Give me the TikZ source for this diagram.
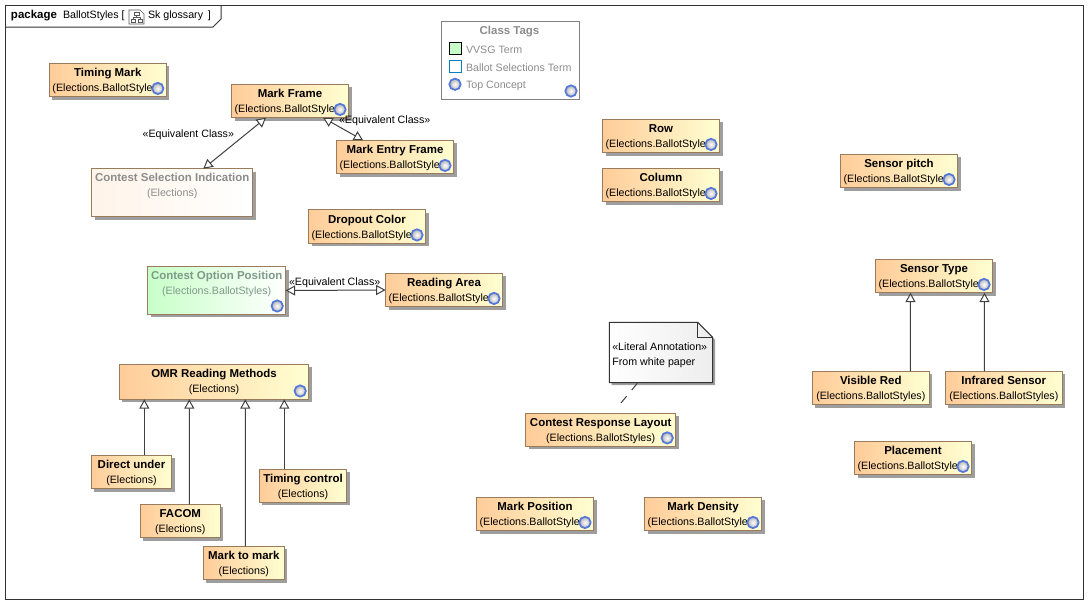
\documentclass[tikz,border=0pt]{standalone}
\usepackage{fontspec}
\setmainfont{Liberation Sans}
\usetikzlibrary{arrows.meta,calc,shadows}

\definecolor{edgebrown}{HTML}{9A7B5C}
\definecolor{classorange}{HTML}{FFCC99}
\definecolor{classyellow}{HTML}{FFFFD2}
\definecolor{termgreen}{HTML}{C8FFC8}
\definecolor{fadetext}{HTML}{8C8C8C}
\definecolor{fadegreen}{HTML}{7F9A8A}
\definecolor{tagblue}{HTML}{0B7FC0}
\definecolor{ringblue}{HTML}{5578DC}

\newcommand{\bname}[1]{{\fontsize{8.6}{11.25}\selectfont\bfseries #1}}
\newcommand{\cname}[1]{\rule{0pt}{7.9pt}\bname{#1}}
\newcommand{\cutstyle}{\makebox[83pt][l]{(Elections.BallotStyle}}

\tikzset{
  txt/.style={font=\fontsize{8}{11.25}\selectfont,inner sep=0pt,outer sep=0pt},
  sized/.style 2 args={minimum width=#1*0.75pt,minimum height=#2*0.75pt},
  boxshadow/.style={drop shadow={shadow xshift=2.25pt,shadow yshift=-2.25pt,fill=black!38,opacity=1}},
  ballot/.style={txt,draw=edgebrown,line width=0.75pt,align=center,boxshadow,
    left color=classorange,right color=classyellow,sized={117}{33.5}},
  topc/.style={circle,draw=ringblue,line width=1.3pt,inner sep=0pt,minimum size=8.5pt,
    inner color=white,outer color=black!30},
  gen/.style={draw=black!75,line width=0.75pt,-{Triangle[open,fill=white,length=7pt,width=7.5pt]}},
  equiv/.style={gen,{Triangle[open,fill=white,length=7pt,width=7.5pt]}-{Triangle[open,fill=white,length=7pt,width=7.5pt]}},
}

\begin{document}
\begin{tikzpicture}[x=0.75pt,y=-0.75pt]
    \useasboundingbox (0,0) rectangle (1087,604);

    % Package frame
    \draw[black!80,line width=0.75pt] (5,5) rectangle (1083,599.5);
    \draw[black!80,line width=0.75pt] (5,27) -- (213,27) -- (221,19) -- (221,5);
    \node[txt,anchor=west] (kind) at (11,15.5) {\bname{package}};
    \node[txt,anchor=west] (pkgname) at (63,15.5) {BallotStyles [};
    \node[txt,anchor=west] (diagname) at (148,15.5) {Sk glossary\ \,]};
    % diagram icon
    \draw[black!65,line width=0.5pt] (129,10) -- (140,10) -- (144,14) -- (144,24) -- (129,24) -- cycle;
    \draw[black!65,line width=0.5pt] (134,12) rectangle (139,15.5) (131,19) rectangle (135.5,22.5)
      (138,19) rectangle (142.5,22.5) (136.5,15.5) -- (136.5,17.5) (133,19) -- (133,17.5) -- (140,17.5) -- (140,19);

    % Legend
    \draw[black!50,line width=0.75pt,fill=white] (441.3,21.7) rectangle (579.3,99.3);
    \node[txt,text=fadetext] (legendtitle) at (509.5,32) {\bname{Class Tags}};
    \node[draw=black,line width=0.75pt,fill=termgreen,sized={12}{12},inner sep=0pt] (vvsgbox) at (455.5,48.5) {};
    \node[draw=tagblue,line width=0.75pt,fill=white,sized={12}{12},inner sep=0pt] (ballotbox) at (455.5,66) {};
    \node[topc] (topbox) at (455,84.3) {};
    \node[txt,text=fadetext,anchor=west] (vvsgtext) at (466,49.5) {VVSG Term};
    \node[txt,text=fadetext,anchor=west] (ballottext) at (466,67.5) {Ballot Selections Term};
    \node[txt,text=fadetext,anchor=west] (toptext) at (466,85.5) {Top Concept};
    \node[topc] (legendtop) at (571,91) {};

    % Upper left classes
    \node[ballot] (timing) at (107.8,80) {\cname{Timing Mark}\\\cutstyle};
    \node[ballot] (markframe) at (290,101) {\cname{Mark Frame}\\\cutstyle};
    \node[ballot] (entry) at (395,157) {\cname{Mark Entry Frame}\\\cutstyle};
    \node[ballot,sized={161}{48},left color=classorange!22,right color=white,text=fadetext] (selection) at (172.2,192.7)
      {\bname{Contest Selection Indication}\\(Elections)\\~};
    \node[ballot] (dropout) at (367,226.5) {\cname{Dropout Color}\\\cutstyle};
    \node[ballot,sized={138}{47.6},left color=termgreen,right color=white,text=fadegreen] (option) at (216.7,290.5)
      {\bname{Contest Option Position}\\(Elections.BallotStyles)\\~};
    \node[ballot] (reading) at (444,290) {\cname{Reading Area}\\\cutstyle};

    % Reading methods
    \node[ballot,sized={189.4}{35}] (omr) at (214,381.8) {\bname{OMR Reading Methods}\\(Elections)};
    \node[ballot,sized={80.4}{33.5}] (direct) at (131.5,472) {\cname{Direct under}\\(Elections)};
    \node[ballot,sized={80}{33.5}] (facom) at (180.3,521) {\cname{FACOM}\\(Elections)};
    \node[ballot,sized={81}{33.5}] (marktomark) at (243.8,563) {\cname{Mark to mark}\\(Elections)};
    \node[ballot,sized={87.4}{33}] (timingctl) at (303,485.8) {\cname{Timing control}\\(Elections)};

    % Middle and right classes
    \node[ballot] (row) at (661,136) {\cname{Row}\\\cutstyle};
    \node[ballot] (column) at (661,185) {\cname{Column}\\\cutstyle};
    \node[ballot] (pitch) at (899,171) {\cname{Sensor pitch}\\\cutstyle};
    \node[ballot] (sensor) at (934,276) {\cname{Sensor Type}\\\cutstyle};
    \node[ballot] (visible) at (870.8,388) {\cname{Visible Red}\\(Elections.BallotStyles)};
    \node[ballot] (infrared) at (1003.8,388) {\cname{Infrared Sensor}\\(Elections.BallotStyles)};
    \node[ballot] (placement) at (913,458) {\cname{Placement}\\\cutstyle};
    \node[ballot,sized={150}{33}] (layout) at (600.7,429.7) {\cname{Contest Response Layout}\\(Elections.BallotStyles)};
    \node[ballot] (markpos) at (535,514) {\cname{Mark Position}\\\cutstyle};
    \node[ballot] (density) at (703,514) {\cname{Mark Density}\\\cutstyle};

    % Top concept marks
    \foreach \n in {timing,markframe,entry,dropout,option,reading,omr,row,column,pitch,sensor,placement,layout,markpos,density} {
      \node[topc] (top\n) at ([shift={(-8.5,-8.3)}]\n.south east) {};
    }

    % Literal annotation
    \fill[black!38] (611.6,324.6) -- (700,324.6) -- (715,339.6) -- (715,385) -- (611.6,385) -- cycle;
    \draw[black!80,line width=0.75pt,left color=white,right color=black!7]
      (609.3,322.3) -- (697.7,322.3) -- (712.7,337.3) -- (712.7,382.7) -- (609.3,382.7) -- cycle;
    \draw[black!80,line width=0.75pt] (697.7,322.3) -- (697.7,337.3) -- (712.7,337.3);
    \node[txt,align=left,anchor=north west] (note) at (612.3,342.5) {«Literal Annotation»\\From white paper};
    \coordinate (notefoot) at (637.3,383.3);
    \coordinate (noteend) at (618.7,405.7);
    \draw[black!75,line width=0.75pt,dash pattern=on 6.6pt off 6pt] (notefoot) -- (noteend);

    % Equivalent classes
    \draw[equiv] ($(markframe.south west)+(34.5,0)$) -- ($(selection.north west)+(111.6,0)$);
    \draw[equiv] ($(markframe.south west)+(91.6,0)$) -- ($(entry.north west)+(26.6,0)$);
    \draw[equiv] (option.east) -- (reading.west);
    \node[txt] (equivleft) at (188.3,135) {«Equivalent Class»};
    \node[txt] (equivright) at (384.7,121) {«Equivalent Class»};
    \node[txt] (equivmid) at (334.7,282.5) {«Equivalent Class»};

    % Generalizations
    \draw[gen] ($(direct.north west)+(53,0)$) -- ($(omr.south west)+(25,0)$);
    \draw[gen] ($(facom.north west)+(49,0)$) -- ($(omr.south west)+(70,0)$);
    \draw[gen] ($(marktomark.north west)+(42,0)$) -- ($(omr.south west)+(126,0)$);
    \draw[gen] ($(timingctl.north west)+(25,0)$) -- ($(omr.south west)+(165,0)$);
    \draw[gen] ($(visible.north west)+(98,0)$) -- ($(sensor.south west)+(35,0)$);
    \draw[gen] ($(infrared.north west)+(39,0)$) -- ($(sensor.south west)+(109,0)$);
  \end{tikzpicture}
\end{document}
